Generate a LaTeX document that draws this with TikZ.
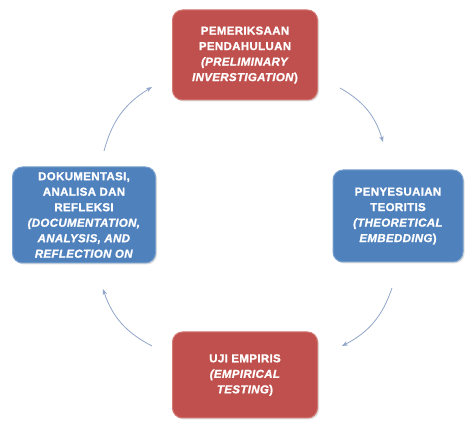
\documentclass[tikz,border=0pt]{standalone}
\usepackage{fontspec}
\setmainfont{Liberation Sans}[LetterSpace=3,BoldFeatures={FakeBold=1.2},BoldItalicFeatures={FakeBold=1.2}]
\usetikzlibrary{arrows.meta,shadows}
\definecolor{boxred}{RGB}{192,80,77}
\definecolor{boxblue}{RGB}{79,129,189}
\definecolor{redline}{RGB}{210,120,115}
\definecolor{blueline}{RGB}{120,160,205}
\definecolor{arrowc}{RGB}{145,165,200}
\begin{document}
\begin{tikzpicture}[x=1pt,y=1pt,
  stagebox/.style={rounded corners=10pt, draw, line width=1pt, align=center,
    text=white, inner sep=2pt, font=\fontsize{11.5}{15.5}\selectfont\bfseries,
    drop shadow={shadow xshift=1.5pt,shadow yshift=-1.5pt,opacity=0.25}},
  redbox/.style={stagebox, fill=boxred, draw=redline},
  bluebox/.style={stagebox, fill=boxblue, draw=blueline},
  cyc/.style={draw=arrowc, line width=0.8pt, -{Stealth[length=6pt,width=4.5pt]}}]
\useasboundingbox (0,0) rectangle (469,423);
\node[redbox, minimum width=145pt, minimum height=90pt] (top) at (245,368)
  {PEMERIKSAAN\\PENDAHULUAN\\\textit{(PRELIMINARY}\\\textit{INVERSTIGATION})};
\node[bluebox, minimum width=130pt, minimum height=92pt] (right) at (398,207)
  {PENYESUAIAN\\TEORITIS\\\textit{(THEORETICAL}\\\textit{EMBEDDING})};
\node[bluebox, minimum width=143pt, minimum height=96pt] (left) at (84,208)
  {DOKUMENTASI,\\ANALISA DAN\\REFLEKSI\\\textit{(DOCUMENTATION,}\\\textit{ANALYSIS, AND}\\\textit{REFLECTION ON}};
\node[redbox, minimum width=145pt, minimum height=86pt] (bottom) at (245,48)
  {UJI EMPIRIS\\\textit{(EMPIRICAL}\\\textit{TESTING})};
\coordinate (a1) at (104,272); \coordinate (b1) at (152,336);
\coordinate (a2) at (340,335); \coordinate (b2) at (383,281);
\coordinate (a3) at (392,135); \coordinate (b3) at (342,77);
\coordinate (a4) at (152,77);  \coordinate (b4) at (103,134);
\draw[cyc] (a1) to[bend left=22] (b1);
\draw[cyc] (a2) to[bend left=22] (b2);
\draw[cyc] (a3) to[bend left=22] (b3);
\draw[cyc] (a4) to[bend left=22] (b4);
\end{tikzpicture}
\end{document}
